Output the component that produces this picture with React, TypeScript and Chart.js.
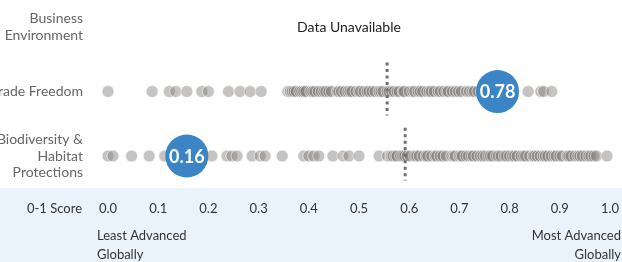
import React, { useEffect, useRef } from "react";
import { Chart, registerables } from "chart.js";

Chart.register(...registerables);

const rowLabels: string[][] = [["Business", "Environment"], ["Trade Freedom"], ["Biodiversity &", "Habitat", "Protections"]];
const tickValues: number[] = [0, 0.1, 0.2, 0.3, 0.4, 0.5, 0.6, 0.7, 0.8, 0.9, 1.0];
const tickLabels: string[] = ["0.0", "0.1", "0.2", "0.3", "0.4", "0.5", "0.6", "0.7", "0.8", "0.9", "1.0"];

const tradeFreedom: number[] = [
  0.0, 0.088, 0.122, 0.135, 0.157, 0.187, 0.2, 0.24, 0.263, 0.283, 0.305,
  0.358, 0.363, 0.367, 0.371, 0.375, 0.382, 0.386, 0.39, 0.394, 0.404, 0.408, 0.412, 0.419,
  0.425, 0.43, 0.434, 0.44, 0.445, 0.457, 0.46, 0.465, 0.472, 0.478, 0.482, 0.486, 0.494,
  0.5, 0.503, 0.51, 0.516, 0.52, 0.526, 0.532, 0.54, 0.544, 0.548, 0.556, 0.56, 0.565,
  0.57, 0.576, 0.58, 0.588, 0.59, 0.6, 0.607, 0.611, 0.618, 0.622, 0.627, 0.635, 0.64,
  0.644, 0.65, 0.658, 0.662, 0.669, 0.675, 0.678, 0.686, 0.692, 0.698, 0.704, 0.714,
  0.72, 0.726, 0.73, 0.737, 0.744, 0.776, 0.837, 0.862, 0.868, 0.884,
];

const biodiversity: number[] = [
  0.0, 0.01, 0.047, 0.082, 0.113, 0.157, 0.207, 0.237, 0.247, 0.257, 0.287, 0.303, 0.313,
  0.347, 0.39, 0.4, 0.41, 0.42, 0.448, 0.468, 0.48, 0.5, 0.54,
  0.557, 0.564, 0.568, 0.573, 0.576, 0.583, 0.587, 0.591, 0.596, 0.602, 0.611, 0.615,
  0.62, 0.628, 0.634, 0.637, 0.645, 0.652, 0.655, 0.662, 0.667, 0.674, 0.685, 0.689,
  0.692, 0.7, 0.703, 0.706, 0.713, 0.718, 0.724, 0.728, 0.735, 0.742, 0.747, 0.752,
  0.758, 0.762, 0.766, 0.774, 0.778, 0.783, 0.79, 0.794, 0.8, 0.806, 0.81, 0.815,
  0.823, 0.828, 0.832, 0.84, 0.847, 0.85, 0.855, 0.861, 0.867, 0.871, 0.876, 0.883,
  0.889, 0.893, 0.9, 0.905, 0.915, 0.918, 0.922, 0.93, 0.936, 0.94, 0.945, 0.952,
  0.958, 0.962, 0.968, 0.973, 0.994,
];

const medians: number[] = [0.556, 0.592];
const highlightScores: number[] = [0.776, 0.157];
const highlightLabels: string[] = ["0.78", "0.16"];

const FONT = "Lato, 'Open Sans', sans-serif";

export default function App() {
  const ref = useRef<HTMLCanvasElement | null>(null);

  useEffect(() => {
    if (!ref.current) return;
    const dotStyle = {
      backgroundColor: "rgba(128,124,120,0.45)",
      borderColor: "rgba(255,255,255,0.6)",
      borderWidth: 1,
      pointRadius: 6,
      pointHoverRadius: 6,
      showLine: false,
      clip: false,
    };

    const overlay = {
      id: "overlay",
      beforeDraw(chart: any) {
        const { ctx, width, height } = chart;
        const ca = chart.chartArea;
        ctx.save();
        ctx.fillStyle = "#eaf2fb";
        ctx.fillRect(0, ca.bottom, width, height - ca.bottom);
        ctx.restore();
      },
      afterDatasetsDraw(chart: any) {
        const { ctx, width } = chart;
        const x = chart.scales.x;
        const y = chart.scales.y;
        const ca = chart.chartArea;
        ctx.save();
        ctx.font = `14px ${FONT}`;
        ctx.fillStyle = "#666";
        ctx.textAlign = "right";
        ctx.textBaseline = "middle";
        rowLabels.forEach((lines, i) => {
          const cy = y.getPixelForValue(i);
          const lh = 16.5;
          lines.forEach((ln, j) => {
            ctx.fillText(ln, 83, cy + (j - (lines.length - 1) / 2) * lh);
          });
        });
        ctx.font = `14px ${FONT}`;
        ctx.fillStyle = "#222";
        ctx.textAlign = "center";
        ctx.fillText("Data Unavailable", x.getPixelForValue(0.48), y.getPixelForValue(0));
        ctx.font = `bold 18px ${FONT}`;
        ctx.fillStyle = "#ffffff";
        highlightScores.forEach((s, i) => {
          ctx.fillText(highlightLabels[i], x.getPixelForValue(s), y.getPixelForValue(i + 1) + 1);
        });
        const ty = ca.bottom + 21;
        ctx.font = `13px ${FONT}`;
        ctx.fillStyle = "#333";
        tickValues.forEach((t, i) => {
          ctx.fillText(tickLabels[i], x.getPixelForValue(t), ty);
        });
        ctx.textAlign = "right";
        ctx.fillText("0-1 Score", 82, ty);
        ctx.textAlign = "left";
        ctx.fillText("Least Advanced", 97, ca.bottom + 48);
        ctx.fillText("Globally", 97, ca.bottom + 67);
        ctx.textAlign = "right";
        ctx.fillText("Most Advanced", width - 1, ca.bottom + 48);
        ctx.fillText("Globally", width - 1, ca.bottom + 67);
        ctx.restore();
      },
    };

    const chart = new Chart(ref.current, {
      type: "scatter",
      data: {
        datasets: [
          {
            label: "highlight",
            data: highlightScores.map((s, i) => ({ x: s, y: i + 1 })),
            backgroundColor: "#3b84c6",
            borderColor: "#3b84c6",
            borderWidth: 0,
            pointRadius: 21.5,
            pointHoverRadius: 21.5,
            clip: false,
            order: 0,
          },
          {
            label: "trade median",
            type: "line",
            data: [
              { x: medians[0], y: 0.55 },
              { x: medians[0], y: 1.37 },
            ],
            borderColor: "#6f6f6f",
            borderWidth: 3,
            borderDash: [3, 3.5],
            pointRadius: 0,
            clip: false,
            order: 1,
          },
          {
            label: "bio median",
            type: "line",
            data: [
              { x: medians[1], y: 1.56 },
              { x: medians[1], y: 2.38 },
            ],
            borderColor: "#6f6f6f",
            borderWidth: 3,
            borderDash: [3, 3.5],
            pointRadius: 0,
            clip: false,
            order: 1,
          },
          {
            label: "Trade Freedom",
            data: tradeFreedom.map((v) => ({ x: v, y: 1 })),
            ...dotStyle,
            order: 2,
          },
          {
            label: "Biodiversity",
            data: biodiversity.map((v) => ({ x: v, y: 2 })),
            ...dotStyle,
            order: 2,
          },
        ],
      } as any,
      options: {
        animation: false,
        responsive: false,
        devicePixelRatio: 1,
        layout: { autoPadding: false, padding: { left: 108, right: 12, top: 0, bottom: 74 } },
        plugins: { legend: { display: false }, tooltip: { enabled: false } },
        scales: {
          x: { type: "linear", min: 0, max: 1, display: false },
          y: { type: "linear", min: -0.419, max: 2.496, reverse: true, display: false },
        },
      } as any,
      plugins: [overlay],
    });
    return () => chart.destroy();
  }, []);

  return (
    <canvas
      ref={ref}
      width={622}
      height={262}
      style={{ position: "fixed", left: 0, top: 0, width: 622, height: 262 }}
    />
  );
}
